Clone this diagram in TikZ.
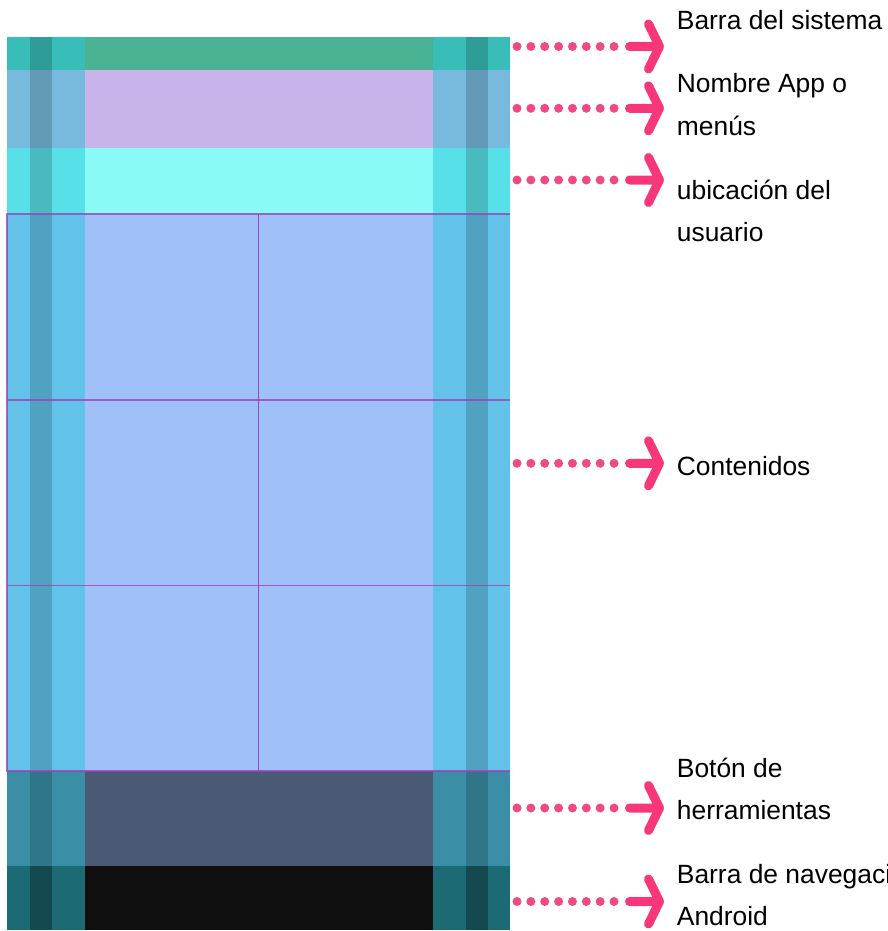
\documentclass[tikz,border=0pt]{standalone}
\usepackage{fontspec}
\setmainfont{Liberation Sans}

\definecolor{sysside}{RGB}{56,189,184}
\definecolor{syscore}{RGB}{74,179,148}
\definecolor{appside}{RGB}{120,186,222}
\definecolor{appcore}{RGB}{200,180,234}
\definecolor{locside}{RGB}{88,224,232}
\definecolor{loccore}{RGB}{138,250,246}
\definecolor{contside}{RGB}{98,194,234}
\definecolor{contcore}{RGB}{160,192,250}
\definecolor{toolside}{RGB}{58,143,166}
\definecolor{toolcore}{RGB}{74,90,116}
\definecolor{navside}{RGB}{28,107,116}
\definecolor{navcore}{RGB}{15,15,15}
\definecolor{gridline}{RGB}{160,64,184}
\definecolor{dotpink}{RGB}{239,74,133}
\definecolor{arrowpink}{RGB}{247,55,122}

\begin{document}
\begin{tikzpicture}[x=0.5pt,y=-0.5pt,
  dotline/.style={draw=dotpink,line width=4.5pt,line cap=round,dash pattern=on 0pt off 6.93pt},
  arrowline/.style={draw=arrowpink,line width=4.5pt,line cap=round,line join=round},
  lbl/.style={anchor=base west,inner sep=0pt,align=left,font=\fontsize{13.2}{21}\selectfont}]

\useasboundingbox (0,0) rectangle (888,931);

%PHONE
% rows: side strips, then core
\fill[sysside] (7,37) rectangle (510,70.5);
\fill[syscore] (84.5,37) rectangle (433,70.5);
\fill[appside] (7,70.5) rectangle (510,148);
\fill[appcore] (84.5,70.5) rectangle (433,148);
\fill[locside] (7,148) rectangle (510,214);
\fill[loccore] (84.5,148) rectangle (433,214);
\fill[contside] (7,214) rectangle (510,771);
\fill[contcore] (84.5,214) rectangle (433,771);
\fill[toolside] (7,771) rectangle (510,866);
\fill[toolcore] (84.5,771) rectangle (433,866);
\fill[navside] (7,866) rectangle (510,930);
\fill[navcore] (84.5,866) rectangle (433,930);
% darker strips
\fill[black,opacity=0.17] (30,37) rectangle (52,930);
\fill[black,opacity=0.17] (466,37) rectangle (488,930);
\fill[black,opacity=0.17] (30,866) rectangle (52,930);
\fill[black,opacity=0.17] (466,866) rectangle (488,930);

%GRID
\draw[gridline,line width=0.6pt,opacity=0.8] (510,214) -- (7,214) -- (7,771) -- (510,771);
\draw[gridline,line width=0.6pt,opacity=0.8] (7,400) -- (510,400);
\draw[gridline,line width=0.6pt,opacity=0.8] (7,585.5) -- (510,585.5);
\draw[gridline,line width=0.6pt] (258.7,214) -- (258.7,771);

%LABELS
% two-line labels are placed by their last baseline
\node[lbl] (sys) at (676.5,30) {Barra del sistema};
\node[lbl] (app) at (676.5,135) {Nombre App o\\menús};
\node[lbl] (loc) at (676.5,241.7) {ubicación del\\usuario};
\node[lbl] (cont) at (676.5,475.5) {Contenidos};
\node[lbl] (tool) at (676.5,819.3) {Botón de\\herramientas};
\node[lbl] (nav) at (676.5,925) {Barra de navegación\\Android};

%ARROWS
\foreach \n/\y in {1/46.5, 2/108.3, 3/180, 4/463.3, 5/808, 6/901.5} {
  \coordinate (s\n) at (517,\y);
  \coordinate (e\n) at (614.5,\y);
  \coordinate (b\n) at (629.5,\y);
  \coordinate (t\n) at (659.5,\y);
  \draw[dotline] (s\n) -- (e\n);
  \draw[arrowline] (b\n) -- (t\n) ++(-11,-22.5) -- (t\n) -- ++(-11,22.5);
}

\end{tikzpicture}
\end{document}
